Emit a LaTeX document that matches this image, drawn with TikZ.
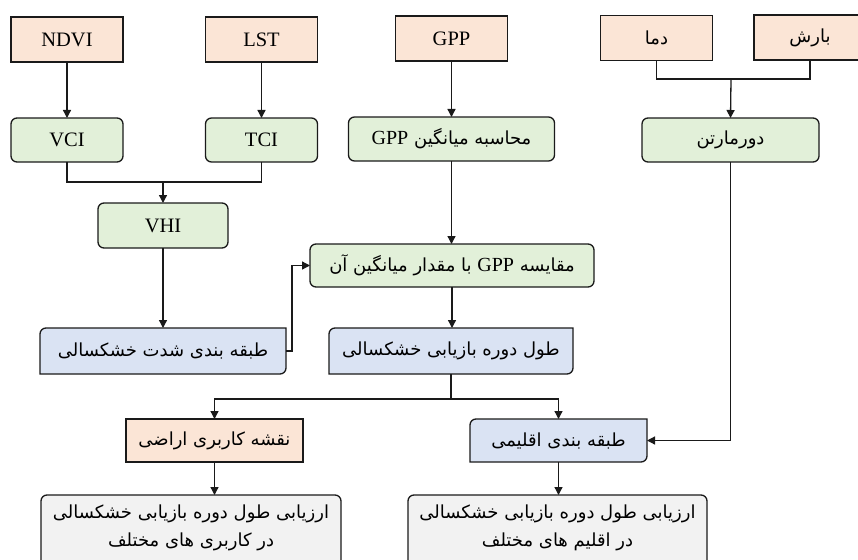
\documentclass[tikz,border=0pt]{standalone}
\usepackage{fontspec}
\setmainfont{Liberation Serif}
\newfontfamily\arabicfont[Script=Arabic]{DejaVu Sans}
\TeXXeTstate=1
\usetikzlibrary{arrows.meta,backgrounds}
\definecolor{peachf}{HTML}{FBE5D6}
\definecolor{greenf}{HTML}{E2F0D9}
\definecolor{bluef}{HTML}{DAE3F3}
\definecolor{greyf}{HTML}{F2F2F2}
\definecolor{linec}{HTML}{1A1A1A}
\newcommand\lt[1]{{\fontsize{20.5}{24}\selectfont #1}}
\newcommand\fa[1]{{\arabicfont\fontsize{18}{21}\selectfont\beginR #1\endR}}
\newcommand\gpp{\beginL{\rmfamily\fontsize{20}{24}\selectfont GPP}\endL{}}
\newcommand\diagoutline[2]{%
  \draw[line width=1.3pt, draw=linec, fill=#2]
    ([xshift=6pt]#1.north west) -- (#1.north east) -- ([yshift=6pt]#1.south east)
    arc[start angle=0,end angle=-90,radius=6pt] -- (#1.south west) -- ([yshift=-6pt]#1.north west)
    arc[start angle=180,end angle=90,radius=6pt] -- cycle;}
\tikzset{
  wh/.style 2 args={minimum width=#1pt, minimum height=#2pt},
  peachbox/.style={draw=linec, fill=peachf, line width=1.3pt, inner sep=0pt, outer sep=0pt},
  greenbox/.style={draw=linec, fill=greenf, line width=1.3pt, rounded corners=6pt, inner sep=0pt, outer sep=0pt},
  diagnode/.style={inner sep=0pt, outer sep=0pt},
  greybox/.style={draw=linec, fill=greyf, line width=1.3pt, rounded corners=6pt, inner sep=0pt, outer sep=0pt},
  conn/.style={draw=linec, line width=1.3pt},
  arr/.style={conn, -{Triangle[length=8pt,width=8pt]}}
}
\begin{document}
\begin{tikzpicture}[x=1pt,y=1pt]
\useasboundingbox (0,0) rectangle (858,-559);
\clip (0,0) rectangle (858,-559);

% top row
\node[peachbox, wh={112}{45}] (ndvi) at (67,-39.5) {\lt{NDVI}};
\node[peachbox, wh={112}{45}] (lst) at (261.5,-39.5) {\lt{LST}};
\node[peachbox, wh={112}{45}] (gpp) at (451.5,-38.5) {\lt{GPP}};
\node[peachbox, wh={112}{45}] (dama) at (656.5,-38) {\fa{دما}};
\node[peachbox, wh={112}{45}] (barsh) at (810,-37.5) {\fa{بارش}};

% second row
\node[greenbox, wh={112}{44}] (vci) at (67,-140) {\lt{VCI}};
\node[greenbox, wh={112}{44}] (tci) at (261.5,-140) {\lt{TCI}};
\node[greenbox, wh={206}{44}] (moh) at (451.5,-139) {\fa{محاسبه میانگین \gpp}};
\node[greenbox, wh={177}{44}] (dorm) at (730.5,-140) {\fa{دورمارتن}};

\node[greenbox, wh={130}{45}] (vhi) at (163,-225.5) {\lt{VHI}};
\node[greenbox, wh={284}{43}] (moq) at (452,-265.5) {\fa{مقایسه \gpp{} با مقدار میانگین آن}};

% blue row
\node[diagnode, wh={246}{46}] (shed) at (163,-351) {\fa{طبقه بندی شدت خشکسالی}};
\node[diagnode, wh={244}{46}] (tool) at (451,-351) {\fa{طول دوره بازیابی خشکسالی}};

\node[peachbox, wh={177}{43}] (naq) at (214.5,-440.5) {\fa{نقشه کاربری اراضی}};
\node[diagnode, wh={177}{43}] (eql) at (558.5,-440.5) {\fa{طبقه بندی اقلیمی}};

% bottom boxes
\node[greybox, wh={300}{90}, anchor=north] (b1) at (191,-495) {};
\node[greybox, wh={299}{90}, anchor=north] (b2) at (557.5,-495) {};
\node[align=center, inner sep=0pt] (b1t) at (191,-528) {\fa{ارزیابی طول دوره بازیابی خشکسالی}\\[9pt]\fa{در کاربری های مختلف}};
\node[align=center, inner sep=0pt] (b2t) at (557.5,-528) {\fa{ارزیابی طول دوره بازیابی خشکسالی}\\[9pt]\fa{در اقلیم های مختلف}};

\begin{scope}[on background layer]
  \diagoutline{shed}{bluef}
  \diagoutline{tool}{bluef}
  \diagoutline{eql}{bluef}
\end{scope}

% connectors
\draw[arr] (ndvi) -- (vci);
\draw[arr] (lst) -- (tci);
\draw[arr] (gpp) -- (moh);
\coordinate (j1) at (163,-182);
\draw[conn] (vci.south) |- (j1) -| (tci.south);
\draw[arr] (j1) -- (vhi.north);
\coordinate (j2) at (731,-79);
\draw[conn] (dama.south) |- (j2) -| (barsh.south);
\draw[arr] (j2) -- (dorm.north);
\draw[arr] (moh.south) -- (moh.south |- moq.north);
\draw[arr] (vhi.south) -- (shed.north);
\draw[arr] (shed.east) -- ++(6,0) |- (moq.west);
\draw[arr] (moq.south) -- (moq.south |- tool.north);
\coordinate (j3) at (451,-399);
\draw[conn] (tool.south) -- (j3);
\draw[arr] (j3) -| (naq.north);
\draw[arr] (j3) -| (eql.north);
\draw[arr] (dorm.south) |- (eql.east);
\draw[arr] (naq.south) -- (naq.south |- b1.north);
\draw[arr] (eql.south) -- (eql.south |- b2.north);
\end{tikzpicture}
\end{document}
